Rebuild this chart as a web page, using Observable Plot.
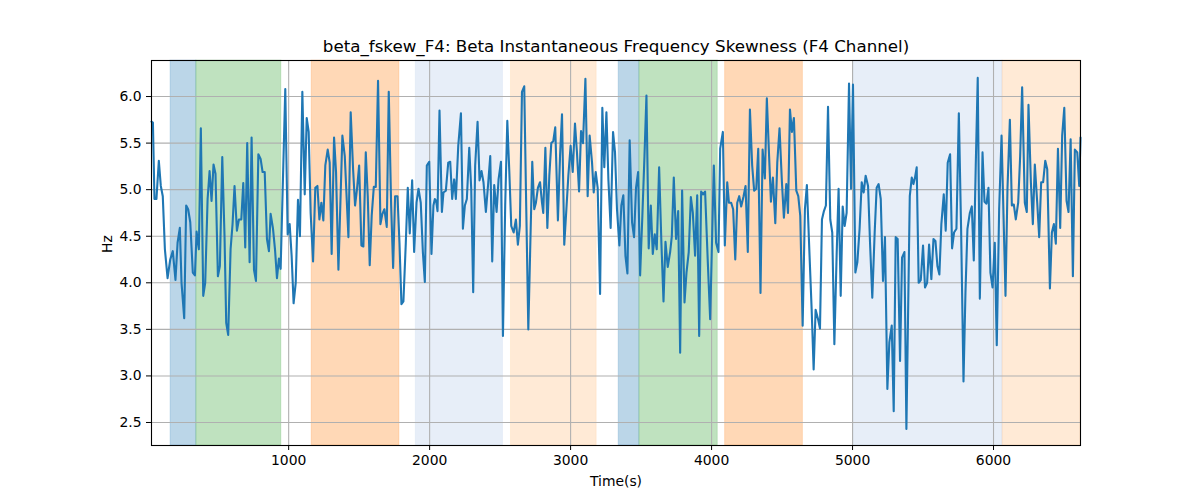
<!DOCTYPE html>
<html><head><meta charset="utf-8">
<script src="https://cdn.jsdelivr.net/npm/d3@7"></script>
<script src="https://cdn.jsdelivr.net/npm/@observablehq/plot@0.6"></script>
<style>body{margin:0;background:#fff;}</style>
</head><body><div id="chart"></div>
<script>
const title = "beta_fskew_F4: Beta Instantaneous Frequency Skewness (F4 Channel)";
const xLabel = "Time(s)";
const yLabel = "Hz";
const xTicks = [1000, 2000, 3000, 4000, 5000, 6000];
const yTicks = [2.5, 3.0, 3.5, 4.0, 4.5, 5.0, 5.5, 6.0];

// [time, Hz] readings, segment by segment
const seg1 = [[27,5.73],[37,5.72],[48,4.90],[62,4.90],[79,5.31],[93,5.04],[107,4.93],[122,4.36],[141,4.05],[160,4.25],[178,4.34],[197,4.03],[212,4.43],[228,4.59],[240,4.00],[259,3.62],[273,4.83],[287,4.79],[302,4.65],[320,4.11],[335,4.08],[347,4.55],[363,4.36],[377,5.66],[394,3.86],[408,4.00],[425,4.90],[439,5.20],[453,4.88],[467,5.27],[481,5.17],[498,4.07],[512,4.18],[529,5.35],[545,4.50],[557,3.57],[571,3.44],[588,4.36],[602,4.63],[616,5.04],[633,4.56],[647,4.68],[664,4.68],[678,5.07],[692,4.38]];
const seg2 = [[706,5.50],[723,4.22],[737,5.56],[754,4.14],[768,4.02],[785,5.38],[801,5.33],[815,5.19],[830,5.19],[846,4.47],[860,4.34],[872,4.74],[889,4.58],[903,4.36],[917,4.05],[931,4.26],[943,4.15],[962,5.26],[976,6.08],[993,4.52],[1007,4.63],[1021,4.29],[1035,3.78],[1050,4.00],[1066,4.89],[1080,4.50],[1097,6.05],[1114,4.95],[1128,5.77],[1142,5.62],[1156,4.75],[1173,4.23],[1189,5.02],[1204,5.04],[1218,4.68],[1232,4.86],[1246,4.67],[1260,5.26],[1277,5.43],[1291,5.29],[1305,4.31],[1322,5.56],[1336,5.19],[1353,4.14]];
const seg3 = [[1381,5.58],[1398,5.36],[1424,4.49],[1440,5.83],[1457,5.22],[1471,4.83],[1485,5.01],[1500,5.26],[1516,4.40],[1530,4.39],[1547,5.40],[1561,4.93],[1575,4.19],[1589,4.72],[1604,5.03],[1618,5.03],[1634,6.17],[1651,4.63],[1665,4.74],[1679,4.79],[1696,4.60],[1710,6.05],[1727,4.83],[1741,4.16],[1755,4.93],[1772,4.93],[1786,4.43],[1800,3.77],[1814,3.80],[1831,4.43],[1845,5.02],[1859,4.53],[1876,5.10],[1890,4.33],[1907,4.86],[1921,5.01],[1937,4.86],[1952,4.33],[1966,4.01],[1980,5.26],[1997,5.30],[2013,4.31],[2027,4.83]];
const seg4 = [[2037,4.90],[2046,4.88],[2056,4.77],[2070,5.85],[2087,4.76],[2098,4.97],[2115,4.99],[2132,5.29],[2146,5.30],[2160,4.90],[2174,5.11],[2186,4.90],[2203,5.47],[2222,5.82],[2236,4.58],[2250,4.83],[2264,4.90],[2281,5.45],[2295,5.01],[2309,3.90],[2323,5.26],[2340,5.73],[2354,5.10],[2368,5.20],[2382,5.08],[2399,4.76],[2416,5.08],[2430,5.36],[2444,4.23],[2458,5.05],[2475,4.76],[2489,5.11],[2506,5.30],[2520,3.43],[2536,4.83],[2551,5.74],[2565,5.20],[2579,4.61],[2596,4.54],[2612,4.68],[2626,4.41],[2640,4.61],[2655,6.05],[2671,6.11],[2685,4.83],[2700,3.50]];
const seg5 = [[2728,5.30],[2742,4.79],[2754,4.86],[2768,5.02],[2783,5.08],[2797,4.86],[2806,4.75],[2821,5.45],[2835,4.59],[2849,5.15],[2863,5.50],[2877,5.52],[2891,5.67],[2910,4.67],[2925,5.36],[2939,5.81],[2955,4.41],[2970,4.79],[2984,5.15],[3000,5.47],[3015,5.19],[3031,5.71],[3045,5.40],[3060,4.98],[3074,5.63],[3088,5.50],[3105,6.19],[3121,4.93],[3135,5.58],[3152,5.29],[3164,4.97],[3178,5.19],[3192,5.02],[3209,3.88],[3225,5.88],[3239,5.24],[3254,5.83],[3268,5.11],[3284,4.59],[3301,5.62],[3315,5.40],[3329,4.79],[3346,4.40],[3360,4.83],[3374,4.94]];
const seg6 = [[3389,4.29],[3403,4.10],[3419,5.53],[3436,4.65],[3450,4.49],[3464,5.02],[3479,5.19],[3493,4.08],[3509,4.72],[3524,5.36],[3538,6.01],[3554,4.37],[3569,4.83],[3583,4.31],[3597,4.52],[3611,4.36],[3628,5.24],[3644,4.43],[3659,3.80],[3673,4.44],[3689,4.17],[3706,4.33],[3718,4.50],[3732,5.13],[3748,4.47],[3763,4.77],[3777,3.25],[3791,4.99],[3808,3.79],[3822,4.11],[3838,4.33],[3853,4.92],[3867,4.75],[3883,4.29],[3898,4.94],[3912,3.43],[3926,4.98],[3940,4.95],[3954,4.98],[3973,4.23],[3990,3.61],[4016,5.26],[4032,4.43],[4049,4.33]];
const seg7 = [[4061,5.44],[4080,5.62],[4094,4.40],[4111,5.08],[4123,4.86],[4139,4.86],[4153,4.79],[4168,4.25],[4182,4.86],[4196,4.93],[4210,4.82],[4227,4.93],[4241,5.04],[4257,4.33],[4272,5.86],[4288,5.26],[4302,4.99],[4317,5.01],[4331,5.44],[4347,3.89],[4362,5.43],[4378,5.12],[4392,5.98],[4407,5.40],[4421,4.87],[4435,5.13],[4452,4.64],[4466,5.29],[4482,5.66],[4499,5.08],[4513,4.70],[4530,5.06],[4542,4.75],[4556,5.86],[4570,5.62],[4584,5.77],[4601,4.99],[4615,4.93],[4629,4.72],[4646,3.54],[4662,4.79],[4676,5.05],[4695,4.29],[4710,3.71],[4724,3.07],[4738,3.71]];
const seg8 = [[4755,3.61],[4769,3.51],[4783,4.68],[4797,4.77],[4811,4.83],[4826,5.89],[4842,4.68],[4856,4.54],[4871,3.34],[4887,4.29],[4901,5.01],[4916,3.86],[4930,4.82],[4944,4.61],[4958,4.75],[4975,6.14],[4989,5.01],[5003,6.13],[5020,4.11],[5034,4.22],[5050,4.58],[5065,5.08],[5079,4.97],[5093,5.15],[5110,5.04],[5124,4.43],[5140,3.84],[5157,4.54],[5171,5.02],[5185,5.06],[5200,4.90],[5216,4.02],[5230,4.49],[5247,2.86],[5261,3.36],[5278,3.54],[5292,2.62],[5306,4.49],[5320,4.47],[5337,3.16],[5351,4.27],[5368,4.33],[5382,2.43]];
const seg9 = [[5406,4.93],[5420,5.13],[5432,5.06],[5443,5.13],[5455,5.24],[5469,4.00],[5484,4.03],[5500,4.40],[5514,3.95],[5529,4.00],[5543,4.41],[5559,4.04],[5574,4.47],[5588,4.45],[5602,4.18],[5616,4.09],[5630,4.63],[5647,4.95],[5661,4.56],[5675,5.29],[5692,5.38],[5706,4.37],[5720,4.54],[5737,4.58],[5754,5.82],[5770,4.58],[5787,2.94],[5801,3.90],[5815,4.58],[5832,4.75],[5846,4.82],[5860,4.24],[5874,5.26],[5888,6.20],[5903,3.83],[5922,5.40],[5936,4.87],[5950,4.85],[5964,5.02],[5978,4.11],[5993,3.95],[6009,4.43],[6023,3.33],[6040,4.79],[6057,5.58],[6085,3.86]];
const seg10 = [[6099,5.01],[6116,5.75],[6130,4.83],[6144,4.84],[6158,4.68],[6175,4.86],[6189,5.36],[6203,6.10],[6222,4.86],[6236,4.76],[6248,5.91],[6265,5.08],[6279,4.63],[6293,5.27],[6310,4.86],[6324,4.49],[6338,5.08],[6352,5.08],[6367,5.31],[6381,5.22],[6400,3.94],[6414,4.54],[6428,4.63],[6442,4.42],[6457,5.44],[6473,4.59],[6487,5.58],[6502,5.88],[6518,4.88],[6532,4.76],[6547,5.54],[6563,4.07],[6577,5.43],[6594,5.40],[6608,5.04],[6617,5.56]];

// shaded intervals: start, end, phase kind
const spanStart = [162, 345, 1163, 1902, 2577, 3341, 3488, 4096, 5008, 6064];
const spanEnd   = [345, 948, 1786, 2520, 3185, 3488, 4044, 4648, 6064, 6617];
const spanKind  = ["A", "B", "C", "D", "E", "A", "B", "C", "D", "E"];

const kindStyle = {
  A: {fill: "#1f77b4", opacity: 0.3},
  B: {fill: "#2ca02c", opacity: 0.3},
  C: {fill: "#ff7f0e", opacity: 0.3},
  D: {fill: "#aec7e8", opacity: 0.3},
  E: {fill: "#ffbb78", opacity: 0.3}
};

const series = [seg1, seg2, seg3, seg4, seg5, seg6, seg7, seg8, seg9, seg10].flat().map(([t, v]) => ({t, v}));
const spans = spanStart.map((s, i) => ({start: s, end: spanEnd[i], kind: spanKind[i]}));

const spanMarks = Object.keys(kindStyle).map(k =>
  Plot.rect(spans.filter(d => d.kind === k), {
    x1: "start", x2: "end",
    fill: kindStyle[k].fill, fillOpacity: kindStyle[k].opacity,
    stroke: kindStyle[k].fill, strokeOpacity: kindStyle[k].opacity * 0.6, strokeWidth: 1
  })
);

const chart = Plot.plot({
  width: 1200, height: 500,
  marginLeft: 151, marginRight: 120, marginTop: 60, marginBottom: 55,
  style: {fontFamily: "'DejaVu Sans', sans-serif", fontSize: "13.9px", color: "black", background: "white"},
  x: {domain: [27, 6617]},
  y: {domain: [2.253, 6.387]},
  marks: [
    ...spanMarks,
    Plot.gridX(xTicks, {stroke: "#b0b0b0", strokeOpacity: 1, strokeWidth: 1.1}),
    Plot.gridY(yTicks, {stroke: "#b0b0b0", strokeOpacity: 1, strokeWidth: 1.1}),
    Plot.line(series, {x: "t", y: "v", stroke: "#1f77b4", strokeWidth: 2.1, strokeLinejoin: "round"}),
    Plot.frame({stroke: "black", strokeWidth: 1.1}),
    Plot.axisX(xTicks, {tickSize: 5, tickPadding: 5, label: null, tickFormat: d => String(d), fontSize: 13.9}),
    Plot.axisY(yTicks, {tickSize: 5, tickPadding: 5, label: null, tickFormat: d => d.toFixed(1), fontSize: 13.9}),
    Plot.text([title], {frameAnchor: "top", lineAnchor: "middle", dy: -14, text: d => d, fontSize: 16.7, fill: "black"}),
    Plot.text([xLabel], {frameAnchor: "bottom", lineAnchor: "middle", dy: 36, text: d => d, fontSize: 13.9, fill: "black"}),
    Plot.text([yLabel], {frameAnchor: "left", lineAnchor: "middle", dx: -44, rotate: -90, text: d => d, fontSize: 13.9, fill: "black"})
  ]
});
document.getElementById("chart").appendChild(chart);
</script>
</body></html>
